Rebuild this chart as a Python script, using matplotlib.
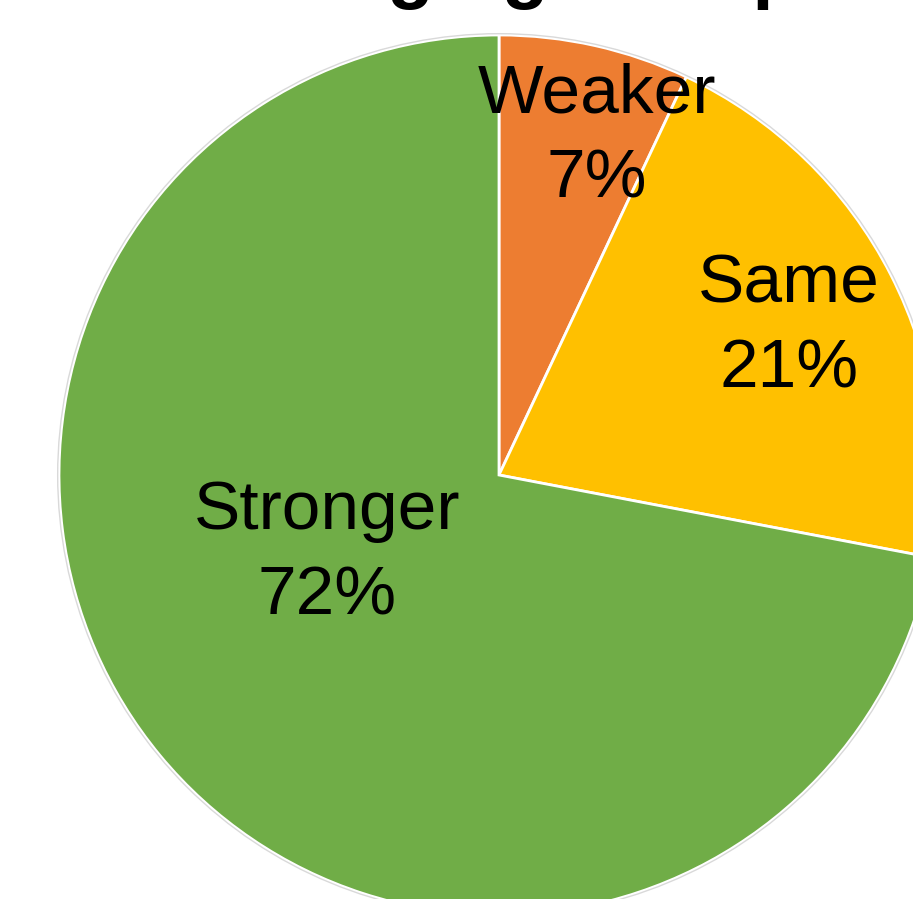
import numpy as np
import matplotlib.pyplot as plt

plt.rcParams['font.family'] = ['Liberation Sans', 'DejaVu Sans']

# share of responses
categories = ['Weaker', 'Same', 'Stronger']
shares = [7, 21, 72]
colors = ['#ED7D31', '#FFC000', '#70AD47']

# where each label sits: (fraction of radius, angle in degrees)
label_pos = [(0.80, 73.8), (0.74, 27.0), (0.43, 204.5)]

W, H = 913, 899
fig = plt.figure(figsize=(W / 100, H / 100), dpi=100)
ax = fig.add_axes([0, 0, 1, 1])

# pie centre and radius in pixels
cx, cy, R = 499, 475, 440

wedges, _ = ax.pie(shares, colors=colors, startangle=90, counterclock=False,
                   radius=1, center=(0, 0),
                   wedgeprops=dict(edgecolor='white', linewidth=2))

# faint outline round the pie
ax.add_patch(plt.Circle((0, 0), 1.003, fill=False, edgecolor='#d9d9d9', linewidth=1))

for cat, val, (r, ang) in zip(categories, shares, label_pos):
    a = np.deg2rad(ang)
    ax.text(r * np.cos(a), r * np.sin(a), f'{cat}\n{val}%', ha='center', va='center',
            fontsize=50, linespacing=1.43, color='black')

ax.set_xlim(-cx / R, (W - cx) / R)
ax.set_ylim(-(H - cy) / R, cy / R)
ax.set_aspect('equal')
ax.axis('off')

# title sits mostly above the top edge
fig.text(0.67, 1 + 6 / H, 'Changing Group Roles', ha='center', va='baseline',
         fontsize=55, fontweight='bold')

fig.savefig('out.png', dpi=100)
